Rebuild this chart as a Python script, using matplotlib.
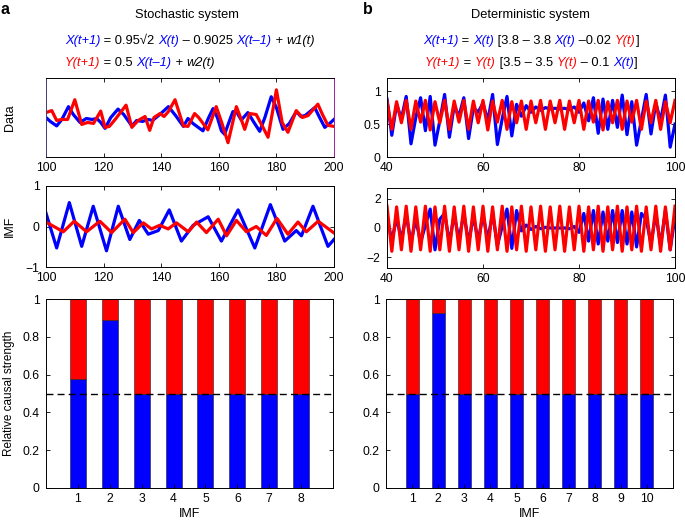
import matplotlib
matplotlib.use("Agg")
import matplotlib.pyplot as plt
from matplotlib.text import Annotation

plt.rcParams['font.family'] = ['Liberation Sans', 'DejaVu Sans']

BLUE = '#0000ff'
RED = '#ff0000'

# ---------------- Stochastic system: data ----------------
sto_x_t = [100, 101.5, 103.7, 105.5, 107.8, 109.5, 111.8, 114, 116, 117.6, 119, 120.5, 122.5, 125, 127,
           129.8, 131.5, 133.5, 135.5, 137, 139.5, 142.5, 145, 147.7, 149.3, 151, 154.5, 156.5, 158, 159.5,
           160.9, 162, 163.5, 164.9, 166.3, 167.8, 170.1, 172, 174.2, 176, 178.2, 180, 182.3, 184.5, 186.9,
           188.5, 190, 193.3, 195, 196.8, 198.5, 200]
sto_x_v = [0.0, -0.4, -0.85, -0.2, 1.1, 0.3, -0.5, -0.1, -0.2, -0.1, -0.5, -1.1, 0.0, 0.85, 0.3,
           -0.85, -0.3, -0.4, -0.2, -0.3, 0.3, 1.1, 0.2, -0.9, -0.1, -0.6, -1.35, 0.0, 0.9, 0.0,
           -1.35, -1.7, -0.5, 0.6, 0.5, -0.25, 0.5, -0.4, -1.4, 0.0, 2.1, 1.0, -1.2, -0.6, 0.6,
           0.1, 0.2, 1.0, 0.0, -1.0, -0.6, -0.2]
sto_y_t = [100, 102, 103.7, 105.5, 107.5, 110, 112.4, 114.5, 116.5, 119, 120.5, 122, 124, 127.8, 129.8,
           132, 134.4, 136, 137.5, 139.6, 141, 142.5, 144.8, 147.7, 149.3, 151.6, 153, 156.2, 159.1, 161,
           163.2, 166.1, 167.8, 169, 170.7, 173, 175, 177.1, 180, 182, 184, 186.9, 189, 191, 194.4,
           196, 197.9, 200]
sto_y_v = [0.5, 0.7, -0.3, -0.2, -0.2, 1.8, -0.7, -0.5, -0.6, 0.65, -1.0, -0.9, -0.2, 1.25, -1.0,
           -0.3, 0.1, -1.3, 0.0, 0.4, 0.1, 0.6, 1.8, -0.85, -0.9, 0.4, 0.0, -1.25, 1.1, -0.5,
           -2.55, 1.1, -0.2, -1.2, 0.4, 0.3, -0.8, -2.0, 2.8, -0.5, -1.5, 0.7, 0.0, 0.2, 1.35,
           0.3, -0.8, -0.9]

# ---------------- Stochastic system: IMF ----------------
sto_imf_x_t = [100, 103.7, 108.1, 112.4, 116.4, 121, 125.1, 129.1, 132.4, 135.5, 139, 142.8, 147, 151.1,
               156.3, 160.9, 166.7, 172.5, 177.9, 182.9, 186.9, 188.7, 192.7, 197.9, 200]
sto_imf_x_v = [0.33, -0.53, 0.59, -0.49, 0.5, -0.6, 0.5, -0.32, 0.15, -0.19, -0.1, 0.41, -0.36, 0.03,
               0.24, -0.36, 0.41, -0.53, 0.54, -0.36, -0.1, -0.23, 0.5, -0.49, -0.32]
sto_imf_y_t = [100, 106, 109.8, 114.1, 118.7, 122.8, 127.4, 130.3, 133.8, 136.6, 139.5, 142.4, 145.3, 149.4,
               152.3, 155.7, 159.8, 162.7, 166.1, 169.6, 173, 176.5, 180.2, 184, 187.5, 190.4, 194.5, 200]
sto_imf_y_v = [0.11, -0.13, 0.13, -0.13, 0.13, -0.15, 0.18, -0.15, 0.09, -0.06, 0.03, -0.06, 0.09, -0.13,
               0.11, -0.15, 0.18, -0.23, 0.15, -0.13, 0.0, -0.22, 0.2, -0.19, 0.11, -0.13, 0.13, -0.16]

# ---------------- Deterministic system: data (t = 40..100) ----------------
det_t = list(range(40, 101))
det_x = [0.88, 0.33, 0.80, 0.58, 0.92, 0.20, 0.60, 0.90, 0.40, 0.92, 0.18, 0.55, 0.95, 0.30, 0.78, 0.62,
         0.90, 0.28, 0.75, 0.68, 0.82, 0.55, 0.95, 0.19, 0.58, 0.92, 0.32, 0.80, 0.62, 0.78, 0.68, 0.76,
         0.71, 0.75, 0.73, 0.74, 0.73, 0.74, 0.72, 0.76, 0.68, 0.82, 0.55, 0.90, 0.36, 0.88, 0.42, 0.86,
         0.45, 0.94, 0.34, 0.84, 0.18, 0.56, 0.95, 0.35, 0.82, 0.55, 0.94, 0.15, 0.50]
det_y = [0.85, 0.42, 0.84, 0.52, 0.86, 0.42, 0.85, 0.53, 0.86, 0.41, 0.84, 0.52, 0.86, 0.42, 0.85, 0.53,
         0.86, 0.42, 0.85, 0.52, 0.86, 0.41, 0.85, 0.53, 0.86, 0.42, 0.84, 0.52, 0.85, 0.42, 0.85, 0.52,
         0.86, 0.42, 0.85, 0.52, 0.86, 0.42, 0.85, 0.52, 0.86, 0.42, 0.85, 0.53, 0.86, 0.41, 0.84, 0.52,
         0.86, 0.42, 0.85, 0.53, 0.86, 0.42, 0.85, 0.52, 0.86, 0.42, 0.84, 0.52, 0.86]

# ---------------- Deterministic system: IMF ----------------
det_imf_x = [0.8, -0.9, 0.7, -0.8, 0.9, -1.0, 0.6, -1.0, 0.2, 1.3, -1.5, 0.6, 1.0, -1.0, 0.9, -0.8,
             1.0, -1.0, 0.8, -0.9, 0.9, -0.8, 1.0, -1.2, 0.1, 1.3, -1.4, 1.2, -0.2, 0.2, -0.1, 0.1,
             -0.05, 0.05, 0.0, 0.0, 0.0, 0.0, -0.05, 0.1, -0.3, 1.0, -0.9, 1.2, -1.1, 1.1, -0.9, 1.2,
             -1.0, 1.2, -1.1, 1.1, -1.3, 1.0, 0.6, -1.1, 1.0, -1.2, 1.2, -1.5, 0.8]
det_imf_y = [1.5, -1.6, 1.45, -1.5, 1.5, -1.6, 1.45, -1.5, 1.5, -1.6, 1.45, -1.5, 1.5, -1.6, 1.45, -1.5,
             1.5, -1.6, 1.45, -1.5, 1.5, -1.6, 1.45, -1.5, 1.5, -1.6, 1.45, -1.5, 1.5, -1.6, 1.45, -1.5,
             1.5, -1.6, 1.45, -1.5, 1.5, -1.6, 1.45, -1.5, 1.5, -1.6, 1.45, -1.5, 1.5, -1.6, 1.45, -1.5,
             1.5, -1.6, 1.45, -1.5, 1.5, -1.6, 1.45, -1.5, 1.5, -1.6, 1.45, -1.5, 1.5]

# ---------------- Relative causal strength ----------------
imf_a = [1, 2, 3, 4, 5, 6, 7, 8]
strength_a = [0.575, 0.89, 0.5, 0.5, 0.5, 0.5, 0.5, 0.5]
imf_b = [1, 2, 3, 4, 5, 6, 7, 8, 9, 10]
strength_b = [0.5, 0.925, 0.5, 0.5, 0.5, 0.5, 0.5, 0.5, 0.5, 0.5]

W, H = 685, 523
fig = plt.figure(figsize=(W / 100, H / 100), dpi=100)


def rect(x0, y0, x1, y1):
    return [x0 / W, 1 - y1 / H, (x1 - x0) / W, (y1 - y0) / H]


TFS = 8.7
LFS = 9
LW = 2.3


def style(ax):
    ax.tick_params(direction='in', length=3, width=0.6, labelsize=TFS, top=True, right=True)
    ax.tick_params(axis='x', pad=3.5)
    ax.tick_params(axis='y', pad=4.5)
    for s in ax.spines.values():
        s.set_linewidth(0.7)


ax1 = fig.add_axes(rect(46, 78, 334, 157))
ax2 = fig.add_axes(rect(387, 78, 675, 157))
ax3 = fig.add_axes(rect(46, 186, 334, 267))
ax4 = fig.add_axes(rect(387, 188, 675, 268))
ax5 = fig.add_axes(rect(46, 299, 333, 488))
ax6 = fig.add_axes(rect(386, 299, 673, 488))

# data a
ax1.plot(sto_x_t, sto_x_v, color=BLUE, lw=LW)
ax1.plot(sto_y_t, sto_y_v, color=RED, lw=LW)
ax1.set_xlim(100, 200)
ax1.set_ylim(-4, 4)
ax1.set_yticks([])
ax1.set_xticks([100, 120, 140, 160, 180, 200])
style(ax1)
ax1.spines['right'].set_color('#a020a0')
ax1.spines['left'].set_color('#404070')
ax1.set_ylabel('Data', fontsize=LFS)
ax1.yaxis.set_label_coords(-0.105, 0.5)

# data b
ax2.plot(det_t, det_x, color=BLUE, lw=LW)
ax2.plot(det_t, det_y, color=RED, lw=LW)
ax2.set_xlim(40, 100)
ax2.set_ylim(0, 1.2)
ax2.set_yticks([0, 0.5, 1])
ax2.set_yticklabels(['0', '0.5', '1'])
ax2.set_xticks([40, 60, 80, 100])
style(ax2)

# IMF a
ax3.plot(sto_imf_x_t, sto_imf_x_v, color=BLUE, lw=LW)
ax3.plot(sto_imf_y_t, sto_imf_y_v, color=RED, lw=LW)
ax3.set_xlim(100, 200)
ax3.set_ylim(-1, 1)
ax3.set_yticks([-1, 0, 1])
ax3.set_yticklabels(['\u22121', '0', '1'])
ax3.set_xticks([100, 120, 140, 160, 180, 200])
style(ax3)
ax3.set_ylabel('IMF', fontsize=LFS)
ax3.yaxis.set_label_coords(-0.105, 0.5)

# IMF b
ax4.plot(det_t, det_imf_x, color=BLUE, lw=LW)
ax4.plot(det_t, det_imf_y, color=RED, lw=LW)
ax4.set_xlim(40, 100)
ax4.set_ylim(-2.75, 2.75)
ax4.set_yticks([-2, 0, 2])
ax4.set_yticklabels(['\u22122', '0', '2'])
ax4.set_xticks([40, 60, 80, 100])
style(ax4)


def bars(ax, cats, vals, xmax):
    top = [1 - v for v in vals]
    ax.bar(cats, vals, width=0.5, color=BLUE, edgecolor='#202020', linewidth=0.4)
    ax.bar(cats, top, bottom=vals, width=0.5, color=RED, edgecolor='#202020', linewidth=0.4)
    ax.axhline(0.5, color='k', lw=1.0, ls=(0, (5, 3)))
    ax.set_xlim(0, xmax)
    ax.set_ylim(0, 1)
    ax.set_xticks(cats)
    ax.set_yticks([0, 0.2, 0.4, 0.6, 0.8, 1])
    ax.set_yticklabels(['0', '0.2', '0.4', '0.6', '0.8', '1'])
    style(ax)
    ax.tick_params(top=False)
    ax.set_xlabel('IMF', fontsize=LFS, va='center')
    ax.xaxis.set_label_coords(0.5, -0.14)


bars(ax5, imf_a, strength_a, 9)
bars(ax6, imf_b, strength_b, 11)
ax5.set_ylabel('Relative causal strength', fontsize=8.5, va='center')
ax5.yaxis.set_label_coords(-0.128, 0.5)

# titles & panel letters
fig.text(5 / W, 1 - 9 / H, 'a', fontsize=11.5, fontweight='bold', ha='center', va='center')
fig.text(368 / W, 1 - 9 / H, 'b', fontsize=11.5, fontweight='bold', ha='center', va='center')
fig.text(187 / W, 1 - 15 / H, 'Stochastic system', fontsize=9.3, ha='center', va='center')
fig.text(530 / W, 1 - 15 / H, 'Deterministic system', fontsize=9.3, ha='center', va='center')

EFS = 9.3


def chain(x, y, segs):
    prev = None
    for s, c, it in segs:
        kw = dict(color=c, fontsize=EFS, style='italic' if it else 'normal', ha='left', va='bottom')
        if prev is None:
            t = fig.text(x / W, 1 - y / H, s, **kw)
        else:
            t = Annotation(s, xy=(1, 0), xycoords=prev, **kw)
            fig.add_artist(t)
        prev = t


k = 'black'
chain(65, 47, [('X(t+1)', BLUE, True), (' = 0.95\u221a2 ', k, False), ('X(t)', BLUE, True),
               (' \u2013 0.9025 ', k, False), ('X(t\u20131)', BLUE, True), (' + ', k, False),
               ('w1(t)', k, True)])
chain(65, 69, [('Y(t+1)', RED, True), (' = 0.5 ', k, False), ('X(t\u20131)', BLUE, True),
               (' + ', k, False), ('w2(t)', k, True)])
chain(423, 47, [('X(t+1)', BLUE, True), (' = ', k, False), ('X(t)', BLUE, True),
                (' [3.8 \u2013 3.8 ', k, False), ('X(t)', BLUE, True), (' \u20130.02 ', k, False),
                ('Y(t)', RED, True), (']', k, False)])
chain(425, 69, [('Y(t+1)', RED, True), (' = ', k, False), ('Y(t)', RED, True),
                (' [3.5 \u2013 3.5 ', k, False), ('Y(t)', RED, True), (' \u2013 0.1 ', k, False),
                ('X(t)', BLUE, True), (']', k, False)])

fig.savefig('out.png', dpi=100)
